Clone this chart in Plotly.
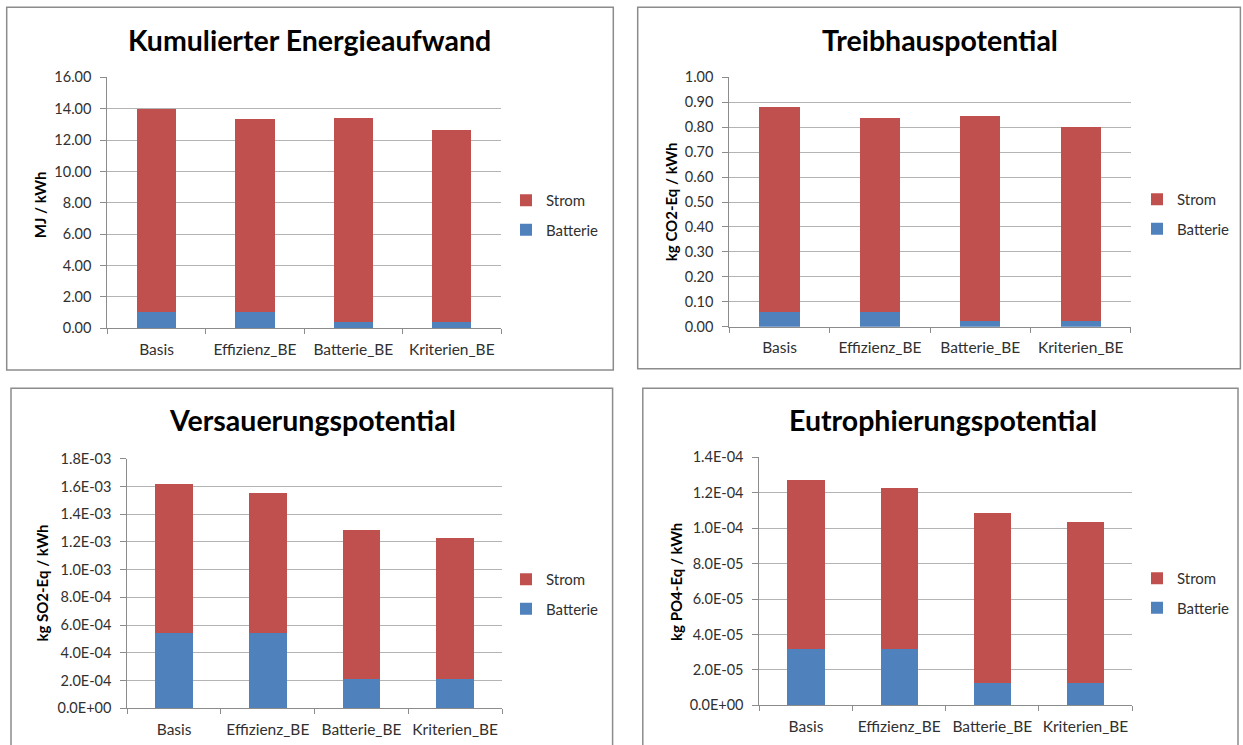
import plotly.graph_objects as go

# Szenarien (Kategorien der x-Achse)
szenarien = ["Basis", "Effizienz_BE", "Batterie_BE", "Kriterien_BE"]

# Kumulierter Energieaufwand [MJ / kWh]
kea_batterie = [1.06, 1.06, 0.38, 0.38]
kea_strom = [12.94, 12.28, 13.00, 12.26]

# Treibhauspotential [kg CO2-Eq / kWh]
thg_batterie = [0.060, 0.060, 0.023, 0.023]
thg_strom = [0.822, 0.777, 0.820, 0.778]

# Versauerungspotential [kg SO2-Eq / kWh]
vers_batterie = [5.41e-4, 5.41e-4, 2.13e-4, 2.13e-4]
vers_strom = [1.075e-3, 1.014e-3, 1.075e-3, 1.017e-3]

# Eutrophierungspotential [kg PO4-Eq / kWh]
eutro_batterie = [3.16e-5, 3.16e-5, 1.24e-5, 1.24e-5]
eutro_strom = [9.575e-5, 9.09e-5, 9.60e-5, 9.09e-5]

# Achsenbeschriftungen der beiden unteren Diagramme
vers_ticks = ["0.0E+00", "2.0E-04", "4.0E-04", "6.0E-04", "8.0E-04",
              "1.0E-03", "1.2E-03", "1.4E-03", "1.6E-03", "1.8E-03"]
eutro_ticks = ["0.0E+00", "2.0E-05", "4.0E-05", "6.0E-05", "8.0E-05",
               "1.0E-04", "1.2E-04", "1.4E-04"]

W, H = 1243, 745
FONT = "Lato, 'Open Sans', sans-serif"
ROT = "#C0504D"
BLAU = "#4F81BD"
GRID = "#B4B4B4"
LINE = "#8C8C8C"
TXT = "#303030"


def px(x):
    return x / W


def py(y):
    return 1 - y / H


panels = [
    dict(title="Kumulierter Energieaufwand", ytitle="MJ / kWh",
         batt=kea_batterie, strom=kea_strom,
         yrange=[0, 16], dtick=2, fmt=".2f", ticks=None,
         plot=(107.3, 77.3, 501.0, 328.3), box=(6.7, 7.3, 613.3, 370.0),
         tpos=(309.5, 39.5), ypos=(39.5, 204.7), leg=(506, 184)),
    dict(title="Treibhauspotential", ytitle="kg CO2-Eq / kWh",
         batt=thg_batterie, strom=thg_strom,
         yrange=[0, 1.0], dtick=0.1, fmt=".2f", ticks=None,
         plot=(729.3, 77.3, 1130.9, 326.7), box=(637.7, 7.3, 1240.4, 368.7),
         tpos=(940.0, 39.5), ypos=(670.5, 201.7), leg=(1137, 183)),
    dict(title="Versauerungspotential", ytitle="kg SO2-Eq / kWh",
         batt=vers_batterie, strom=vers_strom,
         yrange=[0, 1.8e-3], dtick=None, fmt=None, ticks=vers_ticks,
         plot=(127.3, 458.7, 502.0, 708.3), box=(11.0, 388.3, 612.6, 760.0),
         tpos=(312.3, 419.5), ypos=(42.3, 583.3), leg=(506, 563)),
    dict(title="Eutrophierungspotential", ytitle="kg PO4-Eq / kWh",
         batt=eutro_batterie, strom=eutro_strom,
         yrange=[0, 1.4e-4], dtick=None, fmt=None, ticks=eutro_ticks,
         plot=(759.4, 457.3, 1132.1, 705.3), box=(642.8, 388.3, 1238.0, 760.0),
         tpos=(942.8, 419.5), ypos=(675.2, 581.7), leg=(1137, 562)),
]

fig = go.Figure()
layout = dict(
    width=W, height=H,
    margin=dict(l=0, r=0, t=0, b=0, pad=0, autoexpand=False),
    paper_bgcolor="white", plot_bgcolor="white",
    barmode="stack", bargap=0.6,
    font=dict(family=FONT, size=15, color=TXT),
    annotations=[], shapes=[],
)

for i, p in enumerate(panels, start=1):
    sfx = "" if i == 1 else str(i)
    xa, ya = "x" + sfx, "y" + sfx
    leg = "legend" + sfx

    fig.add_trace(go.Bar(x=szenarien, y=p["batt"], name="Batterie",
                         marker=dict(color=BLAU, line=dict(width=0)),
                         xaxis=xa, yaxis=ya, legend=leg,
                         legendgroup="b" + sfx, legendrank=2))
    fig.add_trace(go.Bar(x=szenarien, y=p["strom"], name="Strom",
                         marker=dict(color=ROT, line=dict(width=0)),
                         xaxis=xa, yaxis=ya, legend=leg,
                         legendgroup="s" + sfx, legendrank=1))

    x0, y0, x1, y1 = p["plot"]
    layout["xaxis" + sfx] = dict(
        domain=[px(x0), px(x1)], anchor=ya,
        showline=True, linecolor=LINE, linewidth=1,
        ticks="outside", tickson="boundaries", ticklen=5, tickcolor=LINE,
        showgrid=False, ticklabelstandoff=7, tickangle=0,
        tickfont=dict(family=FONT, size=15.5, color=TXT),
    )
    yax = dict(
        domain=[py(y1), py(y0)], anchor=xa, range=p["yrange"],
        showline=True, linecolor=LINE, linewidth=1,
        ticks="outside", ticklen=6, tickcolor=LINE,
        showgrid=True, gridcolor=GRID, gridwidth=1, zeroline=False,
        ticklabelstandoff=6,
        tickfont=dict(family=FONT, size=14.5, color=TXT),
    )
    if p["ticks"] is None:
        yax.update(tickmode="linear", tick0=0, dtick=p["dtick"], tickformat=p["fmt"])
    else:
        yax.update(tickmode="array", tickvals=[float(t) for t in p["ticks"]],
                   ticktext=p["ticks"])
    layout["yaxis" + sfx] = yax

    lx, ly = p["leg"]
    layout[leg] = dict(
        x=px(lx), y=py(ly), xanchor="left", yanchor="top",
        traceorder="grouped", tracegroupgap=7,
        bgcolor="rgba(0,0,0,0)", borderwidth=0,
        font=dict(family=FONT, size=15, color=TXT),
    )

    bx0, by0, bx1, by1 = p["box"]
    layout["shapes"].append(dict(
        type="rect", xref="paper", yref="paper",
        x0=px(bx0), x1=px(bx1), y0=py(by1), y1=py(by0),
        line=dict(color=LINE, width=1.5), layer="below",
    ))

    tx, ty = p["tpos"]
    layout["annotations"].append(dict(
        text="<b>%s</b>" % p["title"], x=px(tx), y=py(ty),
        xref="paper", yref="paper", xanchor="center", yanchor="middle",
        showarrow=False, font=dict(family=FONT, size=28.5, color="black"),
    ))
    ax, ay = p["ypos"]
    layout["annotations"].append(dict(
        text="<b>%s</b>" % p["ytitle"], x=px(ax), y=py(ay),
        xref="paper", yref="paper", xanchor="center", yanchor="middle",
        textangle=-90, showarrow=False,
        font=dict(family=FONT, size=15, color="black"),
    ))

fig.update_layout(**layout)
fig.write_html("out.html")
